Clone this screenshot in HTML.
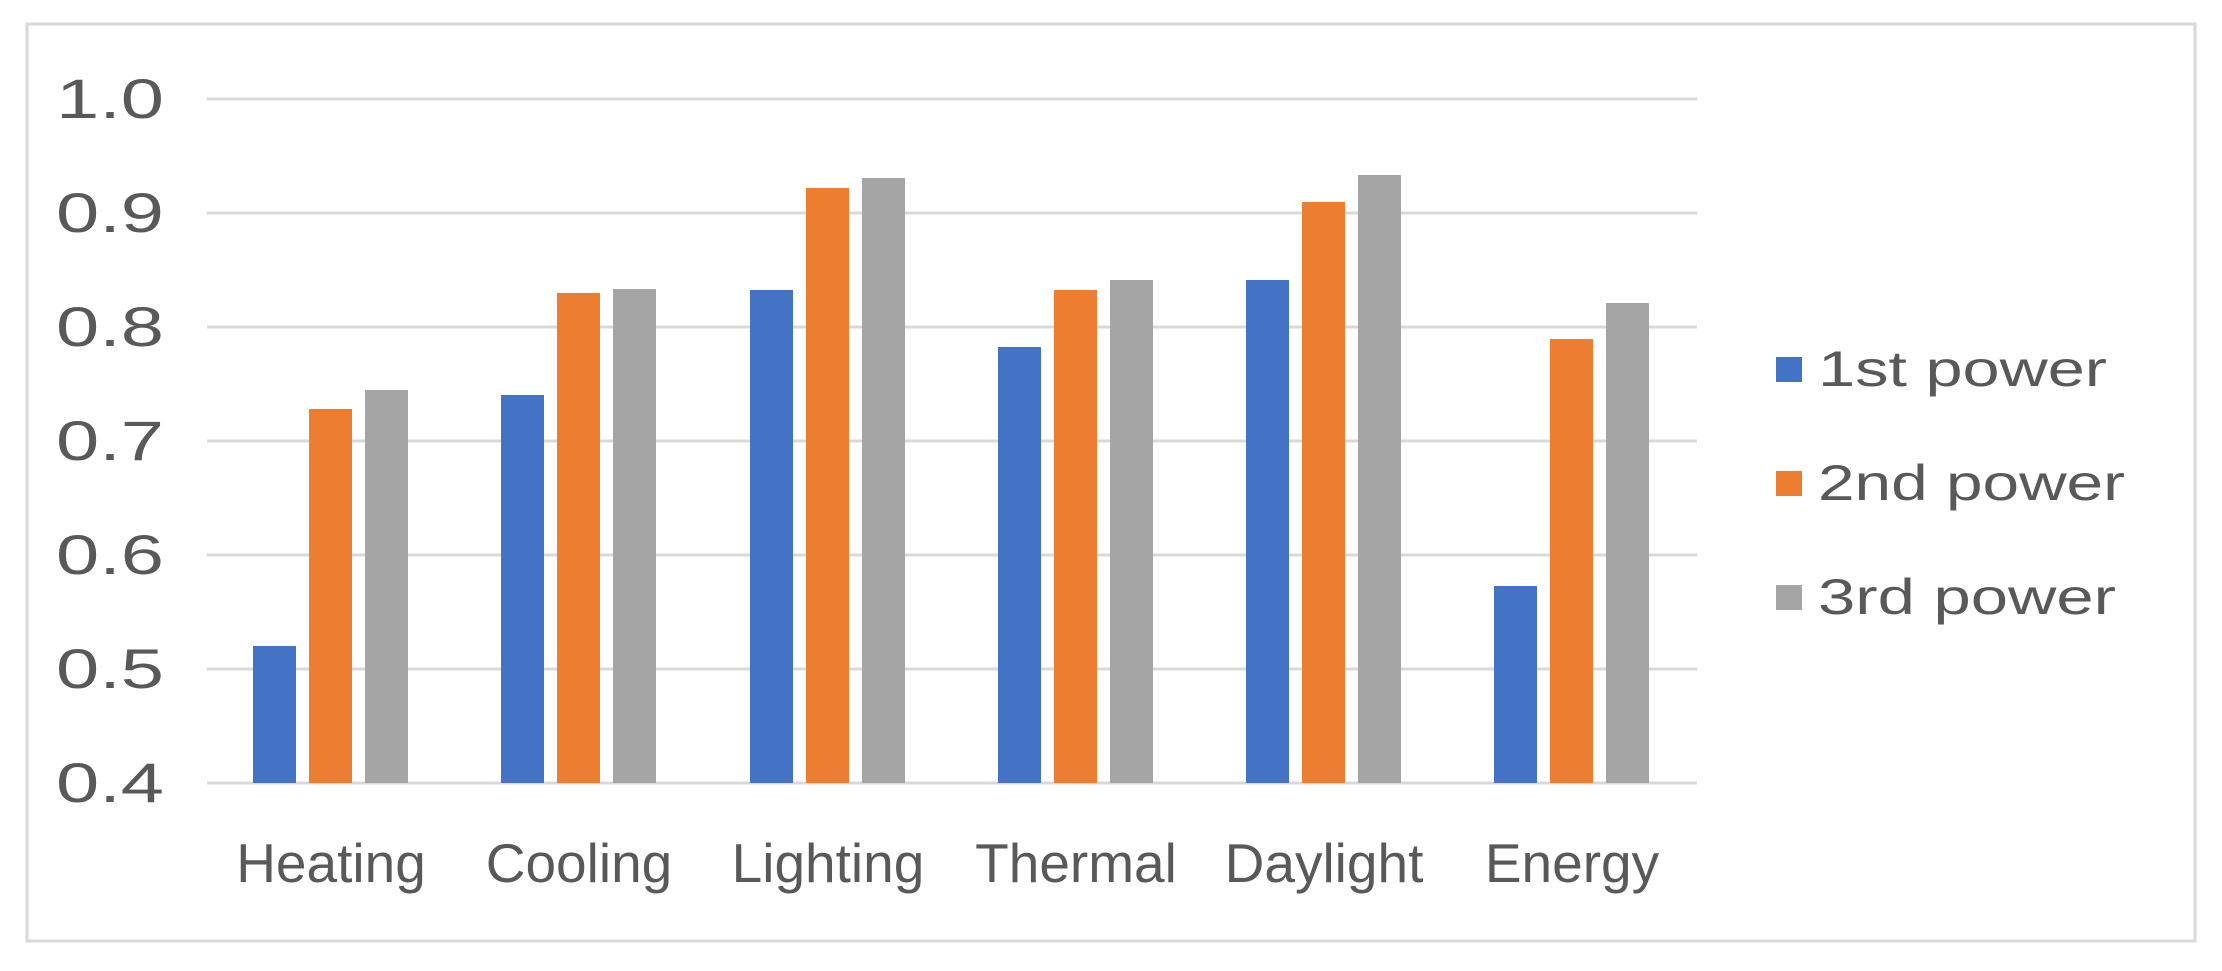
<!DOCTYPE html>
<html><head><meta charset="utf-8"><style>
html,body{margin:0;padding:0;background:#fff;}
svg{display:block;}
text{font-family:"Liberation Sans",sans-serif;fill:#595959;}
</style></head><body>
<svg width="2222" height="971" viewBox="0 0 2222 971" xmlns="http://www.w3.org/2000/svg">
<rect x="0" y="0" width="2222" height="971" fill="#fff"/>
<rect x="27" y="24" width="2168" height="917" fill="none" stroke="#d9d9d9" stroke-width="3"/>
<g stroke="#d9d9d9" stroke-width="3">
<line x1="207" y1="99" x2="1697" y2="99"/>
<line x1="207" y1="213" x2="1697" y2="213"/>
<line x1="207" y1="327" x2="1697" y2="327"/>
<line x1="207" y1="441" x2="1697" y2="441"/>
<line x1="207" y1="555" x2="1697" y2="555"/>
<line x1="207" y1="669" x2="1697" y2="669"/>
<line x1="207" y1="783" x2="1697" y2="783"/>
</g>
<g font-size="56">
<text x="56" y="118" textLength="108" lengthAdjust="spacingAndGlyphs">1.0</text>
<text x="56" y="232" textLength="108" lengthAdjust="spacingAndGlyphs">0.9</text>
<text x="56" y="346" textLength="108" lengthAdjust="spacingAndGlyphs">0.8</text>
<text x="56" y="460" textLength="108" lengthAdjust="spacingAndGlyphs">0.7</text>
<text x="56" y="574" textLength="108" lengthAdjust="spacingAndGlyphs">0.6</text>
<text x="56" y="688" textLength="108" lengthAdjust="spacingAndGlyphs">0.5</text>
<text x="56" y="802" textLength="108" lengthAdjust="spacingAndGlyphs">0.4</text>
</g>
<g font-size="55" text-anchor="middle">
<text x="331" y="882">Heating</text>
<text x="579" y="882">Cooling</text>
<text x="828" y="882">Lighting</text>
<text x="1076" y="882">Thermal</text>
<text x="1324" y="882">Daylight</text>
<text x="1572" y="882">Energy</text>
</g>
<rect x="1776" y="357" width="26" height="25" fill="#4472c4"/>
<rect x="1776" y="471" width="26" height="25" fill="#ed7d31"/>
<rect x="1776" y="585" width="26" height="25" fill="#a5a5a5"/>
<g font-size="50">
<text x="1818" y="386" textLength="289" lengthAdjust="spacingAndGlyphs">1st power</text>
<text x="1818" y="500" textLength="307" lengthAdjust="spacingAndGlyphs">2nd power</text>
<text x="1818" y="614" textLength="298" lengthAdjust="spacingAndGlyphs">3rd power</text>
</g>
<g>
<rect x="253" y="646" width="43" height="137" fill="#4472c4"/>
<rect x="309" y="409" width="43" height="374" fill="#ed7d31"/>
<rect x="365" y="390" width="43" height="393" fill="#a5a5a5"/>

<rect x="501" y="395" width="43" height="388" fill="#4472c4"/>
<rect x="557" y="293" width="43" height="490" fill="#ed7d31"/>
<rect x="613" y="289" width="43" height="494" fill="#a5a5a5"/>

<rect x="750" y="290" width="43" height="493" fill="#4472c4"/>
<rect x="806" y="188" width="43" height="595" fill="#ed7d31"/>
<rect x="862" y="178" width="43" height="605" fill="#a5a5a5"/>

<rect x="998" y="347" width="43" height="436" fill="#4472c4"/>
<rect x="1054" y="290" width="43" height="493" fill="#ed7d31"/>
<rect x="1110" y="280" width="43" height="503" fill="#a5a5a5"/>

<rect x="1246" y="280" width="43" height="503" fill="#4472c4"/>
<rect x="1302" y="202" width="43" height="581" fill="#ed7d31"/>
<rect x="1358" y="175" width="43" height="608" fill="#a5a5a5"/>

<rect x="1494" y="586" width="43" height="197" fill="#4472c4"/>
<rect x="1550" y="339" width="43" height="444" fill="#ed7d31"/>
<rect x="1606" y="303" width="43" height="480" fill="#a5a5a5"/>
</g>
</svg>
</body></html>
